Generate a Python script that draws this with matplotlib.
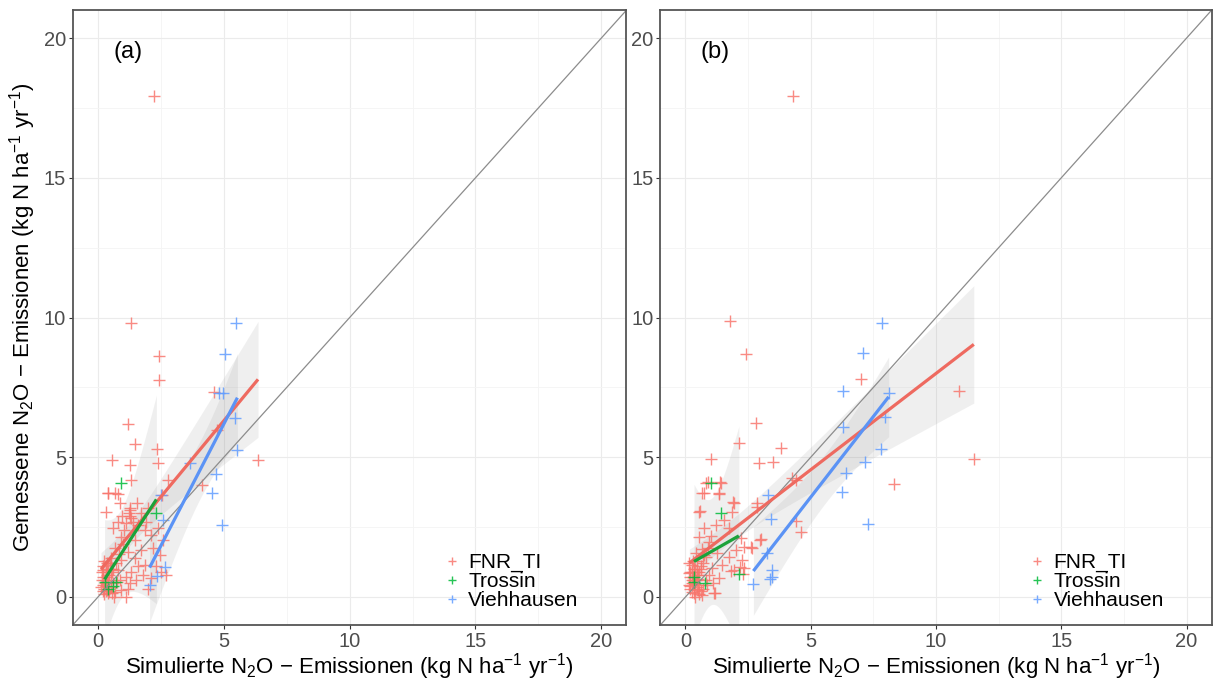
import matplotlib.pyplot as plt
import numpy as np

plt.rcParams['font.family'] = ['Liberation Sans', 'DejaVu Sans']
plt.rcParams['mathtext.fontset'] = 'custom'
plt.rcParams['mathtext.rm'] = 'Liberation Sans'
plt.rcParams['mathtext.it'] = 'Liberation Sans:italic'

# Panel (a): simulated vs measured N2O, per site
a_fnr_x = [2.21, 1.32, 2.42, 2.43, 4.59, 1.20, 1.47, 2.33, 2.38, 0.56, 1.26, 6.36, 1.32, 2.80, 4.13,
           0.40, 0.79, 0.86, 1.56, 0.33, 1.26, 1.24, 1.30, 0.79, 0.60, 1.10, 1.59, 1.85, 0.46, 0.93,
           1.46, 2.12, 2.38, 2.58, 0.33, 0.66, 1.19, 1.72, 2.20, 2.45, 0.28, 0.53, 0.93, 1.46, 1.85,
           0.40, 0.79, 1.32, 1.13, 1.26, 2.71, 2.12, 0.20, 0.33, 0.53, 0.66, 0.93, 1.12, 0.40, 0.60,
           0.20, 0.86, 0.15, 0.20, 0.25, 0.30, 0.35, 0.15, 0.25, 0.45, 0.50, 0.55, 0.45, 0.60, 0.35,
           0.20, 0.70, 0.25, 0.40, 0.30, 0.50, 0.65, 0.55, 0.35, 0.18, 0.12, 0.28, 0.50, 0.75, 0.85,
           1.00, 1.05, 0.95, 1.40, 1.70, 1.90, 2.00, 1.60, 1.80, 1.50, 2.30, 2.50, 2.00, 1.20, 0.38,
           0.69, 1.28, 1.28, 2.54, 0.30, 4.72]
a_fnr_y = [17.94, 9.81, 8.62, 7.76, 7.35, 6.18, 5.46, 5.28, 4.78, 4.90, 4.71, 4.90, 4.17, 4.19, 4.00,
           3.71, 3.68, 3.35, 3.35, 3.05, 3.17, 3.00, 2.82, 2.69, 2.46, 2.64, 2.58, 2.40, 1.20, 2.16,
           2.04, 2.22, 2.46, 2.04, 0.90, 1.74, 1.62, 1.68, 1.74, 1.50, 0.60, 1.38, 1.32, 1.38, 1.14,
           1.14, 0.97, 0.91, 0.73, 0.49, 0.79, 0.67, 0.97, 0.73, 0.37, 0.19, 0.25, 0.01, 0.13, 0.49,
           0.43, 0.61, 0.90, 0.70, 1.30, 1.00, 0.80, 0.60, 0.30, 0.20, 0.60, 0.90, 0.80, 1.00, 1.20,
           0.20, 1.20, 0.10, 0.50, 0.40, 1.00, 0.00, 0.15, 0.25, 1.10, 0.35, 0.50, 1.20, 0.55, 1.55,
           1.90, 2.40, 2.90, 2.70, 3.00, 2.70, 3.20, 1.10, 0.80, 0.60, 1.10, 0.90, 0.30, 0.30, 3.71,
           3.71, 3.10, 2.90, 3.65, 0.20, 5.97]
a_tro_x = [0.92, 2.32, 0.26, 0.73, 0.60, 0.40]
a_tro_y = [4.07, 3.00, 0.55, 0.55, 0.40, 0.30]
a_vie_x = [5.49, 5.05, 4.79, 4.95, 5.45, 5.54, 3.64, 4.70, 4.55, 4.92, 2.60, 2.65, 2.33, 2.05, 2.51]
a_vie_y = [9.79, 8.69, 7.31, 7.31, 6.39, 5.26, 4.78, 4.39, 3.71, 2.56, 2.75, 1.09, 0.75, 0.43, 3.65]

# Panel (b)
b_fnr_x = [4.30, 1.79, 2.41, 7.00, 10.91, 2.82, 2.15, 3.80, 1.03, 2.94, 3.48, 11.51, 4.26, 4.40, 8.33,
           0.90, 1.39, 0.73, 1.32, 0.57, 1.89, 2.84, 4.43, 4.63, 3.00, 2.61, 2.21, 2.18, 2.30, 1.83,
           1.19, 0.81, 1.40, 0.67, 1.33, 0.54, 1.93, 1.87, 1.54, 1.20, 0.74, 1.74, 2.86, 2.99, 2.66,
           2.33, 2.00, 0.54, 0.94, 0.41, 0.81, 1.27, 1.74, 2.27, 1.47, 1.07, 1.93, 2.33, 0.28, 0.15,
           0.48, 0.94, 1.34, 0.54, 0.28, 0.67, 1.14, 0.87, 0.15, 0.41, 0.20, 0.30, 0.35, 0.45, 0.25,
           0.50, 0.60, 0.40, 0.55, 0.70, 0.30, 0.20, 0.65, 0.45, 0.15, 0.80, 0.35, 0.60, 0.25, 1.00,
           0.30, 0.40, 0.50, 0.20, 0.35, 0.60, 0.45, 0.25, 0.55, 0.70, 0.40, 0.30, 0.50, 0.20, 0.75,
           0.35, 0.90, 1.10]
b_fnr_y = [17.94, 9.89, 8.69, 7.81, 7.38, 6.24, 5.50, 5.32, 4.94, 4.78, 4.82, 4.95, 4.25, 4.20, 4.04,
           4.13, 4.13, 3.73, 3.73, 3.08, 3.41, 3.37, 2.73, 2.34, 2.06, 1.80, 2.10, 1.08, 0.82, 0.94,
           0.13, 4.07, 4.07, 3.71, 3.68, 3.05, 3.35, 3.05, 2.75, 2.58, 2.46, 2.46, 3.23, 2.04, 1.74,
           1.80, 1.68, 2.16, 1.98, 1.56, 1.44, 1.56, 1.44, 1.32, 1.14, 1.02, 0.97, 1.02, 1.14, 0.85,
           0.79, 0.79, 0.67, 0.43, 0.19, 0.07, 0.13, 0.43, 0.43, 0.61, 0.30, 0.60, 1.00, 1.30, 0.60,
           0.80, 0.20, 0.00, 0.90, 1.20, 0.50, 0.90, 1.70, 0.35, 1.20, 0.60, 0.30, 1.00, 0.90, 2.20,
           1.30, 0.45, 0.25, 0.70, 0.90, 1.10, 0.90, 0.50, 0.10, 0.30, 1.00, 0.70, 0.65, 0.40, 1.50,
           0.15, 1.75, 0.50]
b_tro_x = [1.00, 1.40, 0.34, 0.78, 2.13, 0.35]
b_tro_y = [4.09, 3.00, 0.55, 0.49, 0.82, 0.70]
b_vie_x = [7.84, 7.08, 6.30, 8.11, 6.27, 7.98, 7.82, 7.17, 6.39, 6.24, 7.27, 3.31, 3.41, 3.24, 3.44, 3.44, 3.37, 2.71]
b_vie_y = [9.81, 8.74, 7.38, 7.31, 6.09, 6.43, 5.30, 4.84, 4.42, 3.74, 2.61, 3.65, 2.79, 1.56, 0.97, 0.70, 0.65, 0.47]

sites = ['FNR_TI', 'Trossin', 'Viehhausen']
point_cols = ['#F8766D', '#00BA38', '#619CFF']
line_cols = ['#EE6A60', '#1BA23A', '#5B93F5']
ticks = [0, 5, 10, 15, 20]


def t_quantile(df, z=1.959964):
    # Cornish-Fisher expansion of Student t 97.5% quantile
    return (z + (z**3 + z) / (4 * df) + (5 * z**5 + 16 * z**3 + 3 * z) / (96 * df**2)
            + (3 * z**7 + 19 * z**5 + 17 * z**3 - 15 * z) / (384 * df**3))


def lm_band(x, y):
    x = np.asarray(x)
    y = np.asarray(y)
    n = len(x)
    slope, inter = np.polyfit(x, y, 1)
    res = y - (inter + slope * x)
    s = np.sqrt(np.sum(res**2) / (n - 2))
    xs = np.linspace(x.min(), x.max(), 80)
    fit = inter + slope * xs
    se = s * np.sqrt(1 / n + (xs - x.mean())**2 / np.sum((x - x.mean())**2))
    hw = t_quantile(n - 2) * se
    return xs, fit, fit - hw, fit + hw


fig = plt.figure(figsize=(12.14, 6.8), dpi=100)
ax_a = fig.add_axes([0.060, 0.081, 0.456, 0.904])
ax_b = fig.add_axes([0.544, 0.081, 0.454, 0.904])

panels = [
    (ax_a, '(a)', [(a_fnr_x, a_fnr_y), (a_tro_x, a_tro_y), (a_vie_x, a_vie_y)]),
    (ax_b, '(b)', [(b_fnr_x, b_fnr_y), (b_tro_x, b_tro_y), (b_vie_x, b_vie_y)]),
]

for ax, tag, groups in panels:
    ax.set_xlim(-1, 21)
    ax.set_ylim(-1, 21)
    ax.set_xticks(ticks)
    ax.set_yticks(ticks)
    ax.set_xticks(np.arange(2.5, 20, 5), minor=True)
    ax.set_yticks(np.arange(2.5, 20, 5), minor=True)
    ax.grid(True, which='major', color='#ebebeb', lw=0.8)
    ax.grid(True, which='minor', color='#f4f4f4', lw=0.6)
    ax.set_axisbelow(True)
    ax.tick_params(which='major', length=3, pad=2, color='#333333', labelsize=14.5,
                   labelcolor='#4d4d4d')
    ax.tick_params(which='minor', length=0)
    for sp in ax.spines.values():
        sp.set_color('#555555')
        sp.set_linewidth(1.3)

    for (gx, gy), lab, c in zip(groups, sites, point_cols):
        ax.plot(gx, gy, ls='none', marker='+', ms=9, mew=1.0, color=c, alpha=0.85, label=lab)
    ax.plot([-1, 21], [-1, 21], color='#8c8c8c', lw=0.9)
    for (gx, gy), c in zip(groups, line_cols):
        xs, fit, lo, hi = lm_band(gx, gy)
        ax.fill_between(xs, lo, hi, color='#999999', alpha=0.15, lw=0)
        ax.plot(xs, fit, color=c, lw=2.3, solid_capstyle='butt')

    ax.text(0.6, 19.5, tag, fontsize=17, va='center', ha='left')
    ax.set_xlabel(r'Simulierte N$_2$O $-$ Emissionen (kg N ha$^{-1}$ yr$^{-1}$)',
                  fontsize=16, labelpad=0)
    leg = ax.legend(loc='lower right', bbox_to_anchor=(0.94, 0.0), frameon=False,
                    fontsize=15, handlelength=0.8, handletextpad=0.4, labelspacing=0.0,
                    borderaxespad=0.3, markerscale=0.7)

ax_a.set_ylabel(r'Gemessene N$_2$O $-$ Emissionen (kg N ha$^{-1}$ yr$^{-1}$)',
                fontsize=16, labelpad=4)

fig.savefig('out.png', dpi=100)
